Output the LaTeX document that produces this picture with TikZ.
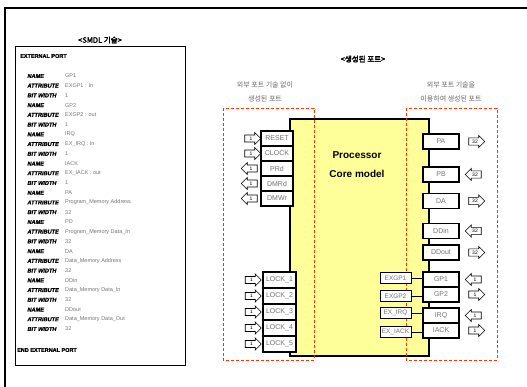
\documentclass[tikz,border=0pt]{standalone}
\usepackage{fontspec}
\setmainfont{Liberation Sans}
\newfontfamily\kr{Noto Sans CJK KR}
\newfontfamily\krbold{Noto Sans CJK KR}[FakeBold=2.5]
\newfontfamily\keyfont{Liberation Sans Bold}[FakeBold=1.2,FakeSlant=0.2]
\newfontfamily\headfont{Liberation Sans Bold}[FakeBold=1.2]
\usetikzlibrary{shapes.arrows}
\definecolor{coreyellow}{HTML}{FFFF99}
\definecolor{zonered}{HTML}{FF3300}
\tikzset{fieldkey/.style={anchor=west,inner sep=0pt,font=\keyfont\fontsize{5.6}{6}\selectfont},fieldval/.style={anchor=west,inner sep=0pt,text=black!55,font=\fontsize{5.5}{6}\selectfont},portbox/.style={draw,line width=1.3pt,fill=white,inner sep=0pt,text=black!55,font=\fontsize{7}{7}\selectfont},exbox/.style={draw,line width=.8pt,fill=white,inner sep=0pt,minimum width=31pt,minimum height=11pt,text=black!55,font=\fontsize{6.5}{6.5}\selectfont},busarrow/.style={single arrow,draw,fill=white,line width=.6pt,minimum height=16pt,minimum width=12pt,single arrow head extend=2.5pt,inner sep=1.5pt,font=\fontsize{5}{5}\selectfont},zone/.style={draw=zonered,dash pattern=on 3pt off 2pt,line width=.7pt},krnote/.style={font=\kr\fontsize{7}{14}\selectfont,text=black!60,align=center},every picture/.style={line join=miter}}

\begin{document}
\begin{tikzpicture}[x=1pt,y=-1pt]
\useasboundingbox (0,0) rectangle (527,387);
\draw[line width=1.2pt] (5,387) -- (5,8) -- (527,8);
\node[font=\krbold\fontsize{7.5}{7.5}\selectfont] (smdltitle) at (100,40) {<SMDL 기술>};
\draw[line width=.8pt] (15,46) rectangle (185,365);
\node[fieldkey,font=\headfont\fontsize{5.5}{6}\selectfont] (extport) at (20,56) {EXTERNAL PORT};
\foreach \n/\p/\a/\w in {0/GP1/EXGP1 : In/1,1/GP2/EXGP2 : out/1,2/IRQ/EX\_IRQ : In/1,3/IACK/EX\_IACK : out/1,4/PA/Program\_Memory Address/32,5/PD/Program\_Memory Data\_In/32,6/DA/Data\_Memory Address/32,7/DDin/Data\_Memory Data\_In/32,8/DDout/Data\_Memory Data\_Out/32}{
\pgfmathsetmacro\y{76+29.2*\n}
\node[fieldkey] (nm\n) at (27,\y) {NAME}; \node[fieldval] (nv\n) at (65,\y) {\p};
\node[fieldkey] (at\n) at (27,\y+9.7) {ATTRIBUTE}; \node[fieldval] (av\n) at (65,\y+9.7) {\a};
\node[fieldkey] (bw\n) at (27,\y+19.4) {BIT WIDTH}; \node[fieldval] (bv\n) at (65,\y+19.4) {\w};
}
\node[fieldkey,font=\headfont\fontsize{5.5}{6}\selectfont] (endport) at (17,350) {END EXTERNAL PORT};
\node[font=\krbold\fontsize{7.5}{7.5}\selectfont] (gentitle) at (363,59) {<생성된 포트>};
\node[krnote] (freelbl) at (265,92) {외부 포트 기술 없이\\생성된 포트};
\node[krnote] (extlbl) at (451,92) {외부 포트 기술을\\이용하여 생성된 포트};
\draw[line width=1.3pt,fill=coreyellow] (290,119) rectangle (429,356);
\node[font=\fontsize{10}{13}\selectfont\bfseries,align=center] (coretxt) at (357,164.5) {Processor\\[6pt]Core model};
\draw[zone] (223,108) rectangle (314,360);
\draw[zone] (406,108) rectangle (497,360);
\foreach \t/\y/\r in {RESET/138.5/0,CLOCK/153.5/0,PRd/168.5/180,DMRd/183.5/180,DMWr/198.5/180}{
\node[portbox,minimum width=32pt,minimum height=15pt] (\t) at (277,\y) {\t};
\node[busarrow,shape border rotate=\r] (arr\t) at (251,\y) {1};
}
\foreach \i in {1,...,5}{
\node[portbox,minimum width=33pt,minimum height=16pt] (lock\i) at (279.5,264+16*\i) {LOCK\_\i};
\node[busarrow] (arrlock\i) at (251.5,264+16*\i) {1};
}
\foreach \t/\y/\w/\r in {PA/141.5/32/0,PB/174.5/32/180,DA/201/32/0,DDin/231/32/180,DDout/252.5/32/0,GP1/279.5/1/180,GP2/294.5/1/0,IRQ/315.5/1/180,IACK/330.5/1/0}{
\node[portbox,minimum width=36pt,minimum height=15pt] (\t) at (441,\y) {\t};
\node[busarrow,shape border rotate=\r] (arr\t) at (475,\y) {\w};
}
\foreach \t/\e/\y in {GP1/EXGP1/278,GP2/EXGP2/296,IRQ/EX\_IRQ/313,IACK/EX\_IACK/332}{
\node[exbox] (ex\t) at (395.5,\y) {\e};
\draw[line width=.8pt] (ex\t.east) -- (ex\t.east -| \t.west);
}
\end{tikzpicture}
\end{document}
